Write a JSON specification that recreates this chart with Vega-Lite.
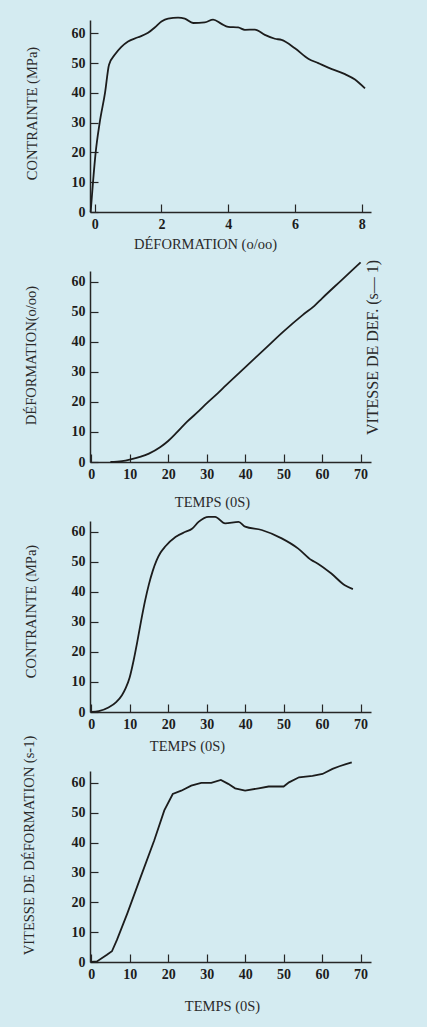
{
  "$schema": "https://vega.github.io/schema/vega-lite/v6.json",
  "background": "#d4ebf1",
  "padding": {"left": 20, "top": 14, "right": 51, "bottom": 14},
  "datasets": {
    "p1": [
      {"deformation": -0.12, "contrainte": 0}, {"deformation": -0.05, "contrainte": 10}, {"deformation": 0.03, "contrainte": 20},
      {"deformation": 0.15, "contrainte": 30}, {"deformation": 0.31, "contrainte": 40}, {"deformation": 0.43, "contrainte": 49.5},
      {"deformation": 0.6, "contrainte": 52.8}, {"deformation": 0.8, "contrainte": 55.5}, {"deformation": 1.0, "contrainte": 57.3},
      {"deformation": 1.3, "contrainte": 58.7}, {"deformation": 1.6, "contrainte": 60.2}, {"deformation": 1.8, "contrainte": 62},
      {"deformation": 2.0, "contrainte": 64}, {"deformation": 2.2, "contrainte": 65}, {"deformation": 2.5, "contrainte": 65.3},
      {"deformation": 2.7, "contrainte": 65}, {"deformation": 2.95, "contrainte": 63.5}, {"deformation": 3.3, "contrainte": 63.7},
      {"deformation": 3.55, "contrainte": 64.6}, {"deformation": 3.8, "contrainte": 63.2}, {"deformation": 4.0, "contrainte": 62.2},
      {"deformation": 4.3, "contrainte": 62}, {"deformation": 4.5, "contrainte": 61.2}, {"deformation": 4.8, "contrainte": 61.3},
      {"deformation": 5.1, "contrainte": 59.5}, {"deformation": 5.4, "contrainte": 58.2}, {"deformation": 5.6, "contrainte": 57.8},
      {"deformation": 6.0, "contrainte": 55}, {"deformation": 6.4, "contrainte": 51.5}, {"deformation": 6.7, "contrainte": 50},
      {"deformation": 7.0, "contrainte": 48.5}, {"deformation": 7.5, "contrainte": 46.3}, {"deformation": 7.8, "contrainte": 44.5},
      {"deformation": 8.1, "contrainte": 41.5}
    ],
    "p2": [
      {"temps": 5, "deformation": 0}, {"temps": 8, "deformation": 0.3}, {"temps": 10, "deformation": 0.8},
      {"temps": 15, "deformation": 2.8}, {"temps": 18, "deformation": 5}, {"temps": 20, "deformation": 7},
      {"temps": 22, "deformation": 9.5}, {"temps": 25, "deformation": 13.5}, {"temps": 28, "deformation": 17},
      {"temps": 30, "deformation": 19.5}, {"temps": 33, "deformation": 23}, {"temps": 35, "deformation": 25.5},
      {"temps": 40, "deformation": 31.5}, {"temps": 45, "deformation": 37.5}, {"temps": 50, "deformation": 43.5},
      {"temps": 55, "deformation": 49}, {"temps": 58, "deformation": 52}, {"temps": 60, "deformation": 54.5},
      {"temps": 65, "deformation": 60.5}, {"temps": 70, "deformation": 66.5}
    ],
    "p3": [
      {"temps": 0, "contrainte": 0}, {"temps": 2, "contrainte": 0.3}, {"temps": 4.5, "contrainte": 1.5},
      {"temps": 6.5, "contrainte": 3.3}, {"temps": 8, "contrainte": 5.6}, {"temps": 9, "contrainte": 8},
      {"temps": 10, "contrainte": 11.5}, {"temps": 11, "contrainte": 17}, {"temps": 12, "contrainte": 23.5},
      {"temps": 13, "contrainte": 30.5}, {"temps": 14, "contrainte": 37}, {"temps": 15, "contrainte": 42.5},
      {"temps": 16, "contrainte": 47}, {"temps": 17, "contrainte": 50.5}, {"temps": 18, "contrainte": 53},
      {"temps": 19.3, "contrainte": 55.2}, {"temps": 21.9, "contrainte": 58.3},
      {"temps": 24.5, "contrainte": 60}, {"temps": 26.2, "contrainte": 61}, {"temps": 27.9, "contrainte": 63.3},
      {"temps": 30.5, "contrainte": 65}, {"temps": 32.2, "contrainte": 65}, {"temps": 34.8, "contrainte": 62.8},
      {"temps": 38.3, "contrainte": 63.3}, {"temps": 40, "contrainte": 61.7}, {"temps": 44.3, "contrainte": 60.6},
      {"temps": 49.5, "contrainte": 57.8}, {"temps": 53.8, "contrainte": 54.4}, {"temps": 57.2, "contrainte": 50.6},
      {"temps": 58.9, "contrainte": 49.4}, {"temps": 62.4, "contrainte": 46.1}, {"temps": 65.9, "contrainte": 42.2},
      {"temps": 68, "contrainte": 40.9}
    ],
    "p4": [
      {"temps": 0, "vitesse": 0}, {"temps": 1.5, "vitesse": 0.2}, {"temps": 4.1, "vitesse": 2.4},
      {"temps": 5.4, "vitesse": 3.6}, {"temps": 6.7, "vitesse": 7.4}, {"temps": 9.4, "vitesse": 16.3},
      {"temps": 12.9, "vitesse": 28.6}, {"temps": 16.4, "vitesse": 40.8}, {"temps": 19, "vitesse": 50.8},
      {"temps": 21.2, "vitesse": 56.3}, {"temps": 23.4, "vitesse": 57.4}, {"temps": 26, "vitesse": 59.1},
      {"temps": 28.6, "vitesse": 60}, {"temps": 31.2, "vitesse": 60}, {"temps": 33.7, "vitesse": 61},
      {"temps": 35.6, "vitesse": 59.7}, {"temps": 37.4, "vitesse": 58.2}, {"temps": 40, "vitesse": 57.4},
      {"temps": 43.5, "vitesse": 58.2}, {"temps": 46.1, "vitesse": 58.8}, {"temps": 50, "vitesse": 58.8},
      {"temps": 51.4, "vitesse": 60.2}, {"temps": 54, "vitesse": 61.9}, {"temps": 57.5, "vitesse": 62.4},
      {"temps": 60.1, "vitesse": 63}, {"temps": 62.7, "vitesse": 64.7}, {"temps": 64.5, "vitesse": 65.6},
      {"temps": 66.2, "vitesse": 66.3}, {"temps": 67.7, "vitesse": 66.9}
    ]
  },
  "vconcat": [
    {
      "width": 281, "height": 192,
      "data": {"name": "p1"},
      "mark": {"type": "line", "color": "#1c1c1c", "strokeWidth": 1.8, "interpolate": "monotone"},
      "encoding": {
        "x": {"field": "deformation", "type": "quantitative",
              "scale": {"domain": [-0.14, 8.28], "nice": false, "zero": false},
              "axis": {"values": [0, 2, 4, 6, 8], "title": "DÉFORMATION (o/oo)", "titleX": 115, "titleY": 32, "titleBaseline": "middle"}},
        "y": {"field": "contrainte", "type": "quantitative",
              "scale": {"domain": [0, 64.5], "nice": false},
              "axis": {"values": [0, 10, 20, 30, 40, 50, 60], "title": "CONTRAINTE (MPa)", "titleX": -58, "titleY": 93, "titleBaseline": "middle"}}
      }
    },
    {
      "width": 281, "height": 191,
      "data": {"name": "p2"},
      "layer": [
        {
          "mark": {"type": "line", "color": "#1c1c1c", "strokeWidth": 1.8, "interpolate": "monotone"},
          "encoding": {
            "x": {"field": "temps", "type": "quantitative",
                  "scale": {"domain": [-0.3, 72.7], "nice": false, "zero": false},
                  "axis": {"values": [0, 10, 20, 30, 40, 50, 60, 70], "title": "TEMPS (0S)", "titleX": 122, "titleY": 40, "titleBaseline": "middle"}},
            "y": {"field": "deformation", "type": "quantitative",
                  "scale": {"domain": [0, 63.6], "nice": false},
                  "axis": {"values": [0, 10, 20, 30, 40, 50, 60], "title": "DÉFORMATION(o/oo)", "titleX": -59, "titleY": 84, "titleBaseline": "middle"}}
          }
        },
        {
          "mark": {"type": "line", "opacity": 0},
          "encoding": {
            "x": {"field": "temps", "type": "quantitative", "scale": {"domain": [-0.3, 72.7], "nice": false, "zero": false}},
            "y": {"field": "deformation", "type": "quantitative",
                  "scale": {"domain": [0, 63.6], "nice": false},
                  "axis": {"orient": "right", "title": "VITESSE DE DEF. (s— 1)", "labels": false, "ticks": false, "domain": false,
                           "titleAngle": 270, "titleX": 1, "titleY": 76, "titleBaseline": "middle", "titleAlign": "center", "titleFontSize": 16}}
          }
        }
      ],
      "resolve": {"scale": {"y": "independent"}}
    },
    {
      "width": 281, "height": 191,
      "data": {"name": "p3"},
      "mark": {"type": "line", "color": "#1c1c1c", "strokeWidth": 1.8, "interpolate": "monotone"},
      "encoding": {
        "x": {"field": "temps", "type": "quantitative",
              "scale": {"domain": [-0.3, 72.7], "nice": false, "zero": false},
              "axis": {"values": [0, 10, 20, 30, 40, 50, 60, 70], "title": "TEMPS (0S)", "titleX": 97, "titleY": 34, "titleBaseline": "middle"}},
        "y": {"field": "contrainte", "type": "quantitative",
              "scale": {"domain": [0, 63.6], "nice": false},
              "axis": {"values": [0, 10, 20, 30, 40, 50, 60], "title": "CONTRAINTE (MPa)", "titleX": -59, "titleY": 90, "titleBaseline": "middle"}}
      }
    },
    {
      "width": 281, "height": 191,
      "data": {"name": "p4"},
      "mark": {"type": "line", "color": "#1c1c1c", "strokeWidth": 1.8},
      "encoding": {
        "x": {"field": "temps", "type": "quantitative",
              "scale": {"domain": [-0.3, 72.7], "nice": false, "zero": false},
              "axis": {"values": [0, 10, 20, 30, 40, 50, 60, 70], "title": "TEMPS (0S)", "titleX": 132, "titleY": 44, "titleBaseline": "middle"}},
        "y": {"field": "vitesse", "type": "quantitative",
              "scale": {"domain": [0, 64], "nice": false},
              "axis": {"values": [0, 10, 20, 30, 40, 50, 60], "title": "VITESSE DE DÉFORMATION (s-1)", "titleX": -61, "titleY": 74, "titleBaseline": "middle"}}
      }
    }
  ],
  "spacing": 59,
  "bounds": "flush",
  "config": {
    "view": {"stroke": null},
    "axis": {
      "grid": false,
      "domainColor": "#262626", "domainWidth": 1.5,
      "tickColor": "#262626", "tickWidth": 1.2, "tickSize": -8,
      "labelFont": "Liberation Serif", "labelFontWeight": "bold", "labelFontSize": 14, "labelColor": "#1c1c1c",
      "labelPadding": 13,
      "titleFont": "Liberation Serif", "titleFontWeight": "normal", "titleFontSize": 14.5, "titleColor": "#2a2a2a"
    }
  }
}
